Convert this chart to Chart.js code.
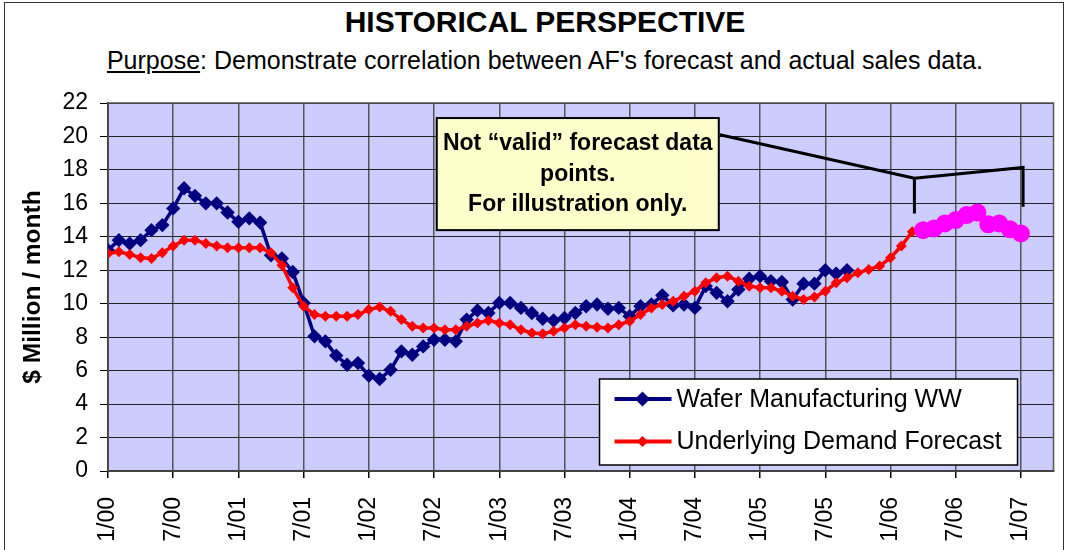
<!DOCTYPE html>
<html>
<head>
<meta charset="utf-8">
<title>Historical Perspective</title>
<script src="https://cdn.jsdelivr.net/npm/chart.js@4.4.0/dist/chart.umd.min.js"></script>
<style>
  html, body { margin: 0; padding: 0; background: #fff; }
  #wrap { position: relative; width: 1068px; height: 550px; overflow: hidden; font-family: 'Liberation Sans', Arial, sans-serif; }
  #frame { position: absolute; left: 4px; top: 2px; width: 1060px; height: 570px; border: 1px solid #333; box-sizing: border-box; }
  .head { position: absolute; left: 0; width: 1068px; padding-left: 22px; box-sizing: border-box; text-align: center; color: #000; white-space: nowrap; }
  #title { top: 5px; font-weight: bold; font-size: 30px; line-height: 34px; }
  #subtitle { top: 46px; font-size: 25px; line-height: 28px; }
  canvas { position: absolute; left: 0; top: 0; }
</style>
</head>
<body>
<div id="wrap">
  <div id="frame"></div>
  <div id="title" class="head">HISTORICAL PERSPECTIVE</div>
  <div id="subtitle" class="head"><u>Purpose</u>: Demonstrate correlation between AF's forecast and actual sales data.</div>
  <canvas id="histChart" width="1068" height="550"></canvas>
</div>
<script>
// Month index 0 = Jan 2000, one value per month
const tickLabels = ['1/00', '7/00', '1/01', '7/01', '1/02', '7/02', '1/03', '7/03',
  '1/04', '7/04', '1/05', '7/05', '1/06', '7/06', '1/07'];
const tickEvery = 6;

const waferStart = 0;
const waferWW = [
  13.2, 13.8, 13.6, 13.8, 14.4, 14.7, 15.7, 16.9, 16.45, 16.0,
  16.0, 15.45, 14.9, 15.1, 14.85, 12.9, 12.7, 11.9, 10.05, 8.05,
  7.75, 6.9, 6.35, 6.45, 5.7, 5.5, 6.05, 7.15, 6.95, 7.45,
  7.85, 7.85, 7.75, 9.05, 9.6, 9.45, 10.05, 10.05, 9.75, 9.45,
  9.1, 9.0, 9.15, 9.45, 9.85, 9.95, 9.7, 9.75, 9.25, 9.85,
  9.95, 10.5, 9.9, 9.95, 9.75, 11.05, 10.65, 10.15, 10.85, 11.5,
  11.65, 11.35, 11.3, 10.25, 11.2, 11.2, 12.0, 11.8, 12.0
];

const demandStart = 0;
const demandForecast = [
  13.0, 13.1, 12.95, 12.75, 12.7, 13.05, 13.45, 13.8, 13.8, 13.6,
  13.45, 13.35, 13.35, 13.35, 13.35, 13.05, 12.3, 10.95, 9.85, 9.35,
  9.25, 9.25, 9.25, 9.35, 9.65, 9.8, 9.55, 9.05, 8.65, 8.55,
  8.55, 8.45, 8.45, 8.65, 8.85, 9.0, 8.85, 8.75, 8.45, 8.25,
  8.2, 8.35, 8.55, 8.75, 8.65, 8.6, 8.55, 8.75, 8.95, 9.35,
  9.75, 9.95, 10.15, 10.45, 10.75, 11.25, 11.55, 11.65, 11.35, 11.05,
  10.95, 10.95, 10.75, 10.45, 10.25, 10.4, 10.75, 11.25, 11.55, 11.85,
  12.05, 12.25, 12.75, 13.45, 14.3
];

// forecast points past the data, shown for illustration only
const illustrationStart = 75;
const illustrationOnly = [14.4, 14.5, 14.8, 15.0, 15.3, 15.45, 14.75, 14.8, 14.45, 14.2];

const noteLines = ['Not \u201cvalid\u201d forecast data', 'points.', 'For illustration only.'];

const FONT = "'Liberation Sans', Arial, sans-serif";

function toPoints(start, values) {
  return values.map((v, i) => ({ x: start + i, y: v }));
}

// Plot background, frame, callout note and legend box
const decorations = {
  id: 'decorations',
  beforeDraw(chart) {
    const { ctx, chartArea: a } = chart;
    ctx.save();
    ctx.fillStyle = '#CCCCFF';
    ctx.fillRect(a.left, a.top, a.right - a.left, a.bottom - a.top);
    ctx.restore();
  },
  beforeDatasetsDraw(chart) {
    const { ctx, chartArea: a } = chart;
    ctx.save();
    ctx.strokeStyle = '#555';
    ctx.lineWidth = 1.5;
    ctx.strokeRect(a.left, a.top, a.right - a.left, a.bottom - a.top);
    ctx.restore();
  },
  afterDraw(chart) {
    const { ctx, chartArea: a, scales: { x, y } } = chart;
    ctx.save();

    // callout lines from the note to the illustration-only span
    ctx.strokeStyle = '#000';
    ctx.lineWidth = 3;
    ctx.beginPath();
    ctx.moveTo(x.getPixelForValue(56.3), y.getPixelForValue(20.1));
    ctx.lineTo(x.getPixelForValue(74.2), y.getPixelForValue(17.5));
    ctx.lineTo(x.getPixelForValue(74.2), y.getPixelForValue(15.4));
    ctx.moveTo(x.getPixelForValue(74.2), y.getPixelForValue(17.5));
    ctx.lineTo(x.getPixelForValue(84.2), y.getPixelForValue(18.15));
    ctx.lineTo(x.getPixelForValue(84.2), y.getPixelForValue(15.8));
    ctx.stroke();

    // note box
    const bx0 = x.getPixelForValue(30.25), bx1 = x.getPixelForValue(56.2);
    const by0 = y.getPixelForValue(21.1), by1 = y.getPixelForValue(14.4);
    ctx.fillStyle = '#FFFFCC';
    ctx.fillRect(bx0, by0, bx1 - bx0, by1 - by0);
    ctx.lineWidth = 2;
    ctx.strokeRect(bx0, by0, bx1 - bx0, by1 - by0);
    ctx.fillStyle = '#000';
    ctx.font = 'bold 23px ' + FONT;
    ctx.textAlign = 'center';
    ctx.textBaseline = 'middle';
    const cx = (bx0 + bx1) / 2;
    noteLines.forEach((line, i) => ctx.fillText(line, cx, by0 + 26 + i * 30.5));

    // legend box in the lower right of the plot
    const lx = a.right - 454, ly = a.bottom - 92, lw = 418, lh = 86;
    ctx.fillStyle = '#fff';
    ctx.fillRect(lx, ly, lw, lh);
    ctx.strokeStyle = '#000';
    ctx.lineWidth = 1.5;
    ctx.strokeRect(lx, ly, lw, lh);
    ctx.font = '25px ' + FONT;
    ctx.textAlign = 'left';
    chart.data.datasets
      .filter(ds => ds.legendRank)
      .sort((p, q) => p.legendRank - q.legendRank)
      .forEach((ds, i) => {
        const ry = ly + 20 + i * 42.5;
        ctx.strokeStyle = ds.borderColor;
        ctx.lineWidth = 4;
        ctx.beginPath();
        ctx.moveTo(lx + 15, ry);
        ctx.lineTo(lx + 72, ry);
        ctx.stroke();
        ctx.fillStyle = ds.pointBackgroundColor;
        Chart.helpers.drawPoint(ctx, { pointStyle: ds.pointStyle, radius: ds.legendRadius, rotation: 0, borderWidth: 0 }, lx + 43, ry);
        ctx.fillStyle = '#000';
        ctx.fillText(ds.label, lx + 77, ry + 1);
      });
    ctx.restore();
  }
};

const ctx = document.getElementById('histChart');
new Chart(ctx, {
  type: 'line',
  data: {
    datasets: [
      {
        label: 'Illustration only',
        data: toPoints(illustrationStart, illustrationOnly),
        borderColor: '#FF00FF',
        backgroundColor: '#FF00FF',
        pointBackgroundColor: '#FF00FF',
        borderWidth: 3,
        pointStyle: 'circle',
        pointRadius: 9,
        pointBorderWidth: 0,
        order: 0
      },
      {
        label: 'Underlying Demand Forecast',
        legendRank: 2,
        data: toPoints(demandStart, demandForecast),
        borderColor: '#FF0000',
        backgroundColor: '#FF0000',
        pointBackgroundColor: '#FF0000',
        borderWidth: 3.5,
        pointStyle: 'rectRot',
        pointRadius: 5.5,
        legendRadius: 5.5,
        pointBorderWidth: 0,
        order: 1
      },
      {
        label: 'Wafer Manufacturing WW',
        legendRank: 1,
        data: toPoints(waferStart, waferWW),
        borderColor: '#000080',
        backgroundColor: '#000080',
        pointBackgroundColor: '#000080',
        borderWidth: 3.5,
        pointStyle: 'rectRot',
        pointRadius: 7.2,
        legendRadius: 7.5,
        pointBorderWidth: 0,
        order: 2
      }
    ]
  },
  options: {
    responsive: false,
    animation: false,
    events: [],
    layout: { padding: { top: 103, right: 14, left: 0, bottom: 0 } },
    plugins: {
      legend: { display: false },
      tooltip: { enabled: false }
    },
    scales: {
      x: {
        type: 'linear',
        min: 0,
        max: 87,
        afterFit: scale => { scale.height = 79; },
        afterBuildTicks: scale => {
          scale.ticks = tickLabels.map((_, i) => ({ value: i * tickEvery }));
        },
        ticks: {
          autoSkip: false,
          minRotation: 90,
          maxRotation: 90,
          padding: 19,
          color: '#000',
          font: { family: FONT, size: 23 },
          callback: value => tickLabels[Math.round(value / tickEvery)]
        },
        grid: { color: '#555', lineWidth: 1.5, tickLength: 7, tickColor: '#000' },
        border: { color: '#000', width: 1.5 }
      },
      y: {
        min: 0,
        max: 22,
        afterFit: scale => { scale.width = 108; },
        ticks: {
          stepSize: 2,
          padding: 12,
          color: '#000',
          font: { family: FONT, size: 23 }
        },
        grid: { color: '#222', lineWidth: 1, tickLength: 8, tickColor: '#000' },
        border: { color: '#000', width: 1.5 },
        title: {
          display: true,
          text: '$ Million / month',
          color: '#000',
          font: { family: FONT, size: 24.5, weight: 'bold' },
          padding: { top: 19, bottom: 0 }
        }
      }
    }
  },
  plugins: [decorations]
});
</script>
</body>
</html>
